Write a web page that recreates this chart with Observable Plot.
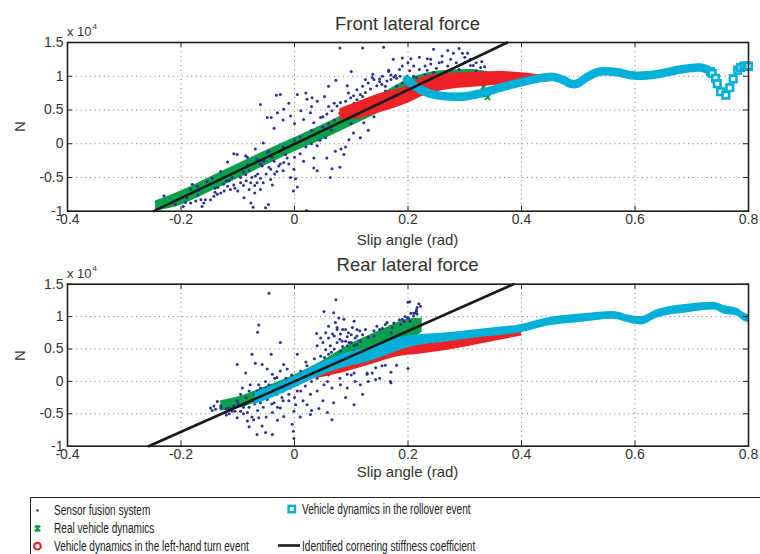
<!DOCTYPE html>
<html><head><meta charset="utf-8">
<script src="https://cdn.jsdelivr.net/npm/d3@7"></script>
<script src="https://cdn.jsdelivr.net/npm/@observablehq/plot@0.6"></script>
<style>
html,body{margin:0;padding:0;background:#fff;width:760px;height:554px;overflow:hidden;font-family:Arial,"Liberation Sans",sans-serif;color:#333}
#wrap{position:relative;width:760px;height:554px;overflow:hidden}
.abs{position:absolute;white-space:nowrap}
#wrap svg.plt{position:absolute;left:0}
.leg{position:absolute;white-space:nowrap;font-size:15.5px;line-height:15.5px;color:#222;transform-origin:0 0;transform:scaleX(0.65)}
</style></head>
<body><div id="wrap"></div>
<script>
// ---------- data (force values in units of 10^4 N) ----------
const xTicks = [-0.4, -0.2, 0, 0.2, 0.4, 0.6, 0.8];
const yTicks = [-1, -0.5, 0, 0.5, 1, 1.5];
const seriesNames = ["Sensor fusion system", "Real vehicle dynamics", "Vehicle dynamics in the left-hand turn event", "Vehicle dynamics in the rollover event", "Identified cornering stiffness coefficient"];

// FRONT: sensor fusion scatter
const frontSensorX = [0.08,0.12,0.157,0.174,0.19,0.205,0.22,0.10,0.073,0.138,0.137,0.15,0.166,0.175,0.186,0.198,0.203,0.21,
 -0.025,-0.032,-0.06,0.005,0.031,0.04,0.053,0.022,-0.048,-0.041,-0.03,-0.019,-0.036,-0.007,0.011,0.016,0.028,0.034,0.046,0.057,0.066,0.075,0.081,0.09,0.099,0.104,0.093,0.116,0.125,0.134,0.145,0.154,0.163,
 0.055,0.04,0.072,0.082,0.057,0.087,0.096,0.116,0.122,0.104,0.034,0.016,0.066,0.063,0.034,-0.001,-0.007,0.002,0.005,-0.002,0.021,
 -0.013,-0.019,-0.028,-0.031,-0.042,-0.036,-0.025,-0.016,-0.048,-0.054,-0.057,-0.042,-0.039,-0.06,-0.069,-0.066,-0.06,-0.07,-0.08,-0.077,-0.086,-0.095,-0.1,-0.089,-0.077,-0.073,-0.046,-0.051,-0.107,-0.113,-0.118,-0.124,-0.13,-0.136,-0.142,-0.148,-0.157,-0.16,-0.165,-0.174,-0.183,-0.192,-0.196,-0.163,
 -0.118,-0.101,-0.086,-0.069,-0.055,-0.045,-0.066,-0.083,-0.13,-0.145,-0.154,-0.171,-0.183,0.21,0.222,
 0.245,0.27,0.29,0.28,0.296,0.305,0.234,0.26,0.166,0.178,0.31,0.315,0.328,0.335,0.234,0.245,-0.23,-0.18,0.08,
 -0.21,-0.19,-0.17,-0.14,-0.12,-0.11,-0.09,-0.08,-0.06,-0.04,-0.02,0.0,0.01,0.03,0.05,0.06,0.07,0.085,0.11,0.13,0.14,0.16,0.18,0.19,0.2,0.215,0.23,
 0.11,0.12,0.13,0.15,0.17,0.18,0.25,0.27,0.29,0.3,0.32,0.24,-0.107,-0.083,
 -0.14,-0.135,-0.125,-0.115,-0.105,-0.095,-0.09,-0.085,-0.075,-0.07,-0.065,-0.055,-0.05,-0.045,-0.035,-0.025,-0.02,-0.01,0.0,0.01,0.02,0.025,0.03,0.045,0.05,0.06,0.065,0.07,0.08,0.09,0.095,0.105,0.11,0.12,0.125,0.13,0.14,0.155,0.16,0.17,0.185,0.19,0.2,0.21,0.22,0.23,0.24,0.255,0.26,0.275,0.285,0.3,0.31,0.32,0.33,0.06,0.03,0.02,-0.01,-0.02,0.0,0.04,0.09,0.1,0.13,0.14];
const frontSensorY = [1.42,1.42,1.43,1.25,1.27,1.26,1.28,1.07,0.94,1.03,0.98,0.96,1.07,0.99,1.0,1.0,1.08,1.0,
 0.73,0.72,0.58,0.73,0.68,0.63,0.70,0.66,0.39,0.39,0.46,0.51,0.23,0.41,0.49,0.36,0.46,0.31,0.39,0.44,0.49,0.56,0.61,0.63,0.68,0.71,0.86,0.73,0.76,0.81,0.86,0.88,0.93,
 0.09,-0.03,-0.11,-0.08,-0.21,-0.16,0.06,0.09,0.31,0.16,-0.21,-0.26,-0.37,-0.50,-0.36,-0.38,-0.50,-0.52,-0.64,-0.70,-0.99,
 -0.21,-0.28,-0.33,-0.41,-0.38,-0.26,-0.11,-0.16,-0.13,-0.26,-0.33,-0.53,-0.61,-0.51,-0.48,-0.58,-0.68,-0.73,-0.68,-0.58,-0.46,-0.58,-0.70,-0.80,-0.88,-0.94,-0.90,-0.95,-0.61,-0.68,-0.63,-0.70,-0.73,-0.75,-0.78,-0.83,-0.83,-0.88,-0.83,-0.85,-0.88,-0.87,-0.93,-0.93,
 -0.27,-0.16,-0.18,-0.08,0.01,-0.11,-0.23,-0.31,-0.41,-0.51,-0.56,-0.63,-0.68,0.81,0.86,
 1.40,1.38,1.41,1.34,1.34,1.34,1.26,1.21,1.09,1.01,1.16,1.16,1.13,1.14,1.09,1.06,-0.77,-0.6,-0.35,
 -0.9,-0.8,-0.76,-0.66,-0.55,-0.5,-0.42,-0.40,-0.30,-0.2,-0.05,0.05,0.1,0.2,0.25,0.3,0.35,0.45,0.55,0.62,0.7,0.78,0.85,0.9,0.95,0.98,1.02,
 0.8,0.85,0.9,0.92,0.95,0.97,1.12,1.15,1.1,1.2,1.08,1.18,-0.15,-0.2,
 -0.72,-0.65,-0.6,-0.55,-0.66,-0.5,-0.62,-0.55,-0.5,-0.62,-0.45,-0.58,-0.45,-0.35,-0.45,-0.3,-0.4,-0.3,-0.2,-0.15,-0.05,0.1,0.0,0.05,0.4,0.55,0.2,0.6,0.45,0.5,0.75,0.6,0.65,0.7,0.95,0.5,0.95,1.0,0.85,1.02,1.1,1.15,1.2,1.15,1.1,1.15,1.25,1.2,1.3,1.25,1.2,1.28,1.25,1.2,1.22,0.85,0.55,0.75,0.6,0.35,0.3,-0.4,-0.05,0.3,0.2,0.4];

// FRONT: real vehicle dynamics band
const frontRealX  = [-0.245,-0.2,-0.15,-0.1,-0.05,0,0.05,0.1,0.15,0.2,0.23,0.27,0.31,0.34];
const frontRealLo = [-1.0,-0.91,-0.72,-0.52,-0.32,-0.12,0.06,0.26,0.46,0.65,0.76,0.86,0.88,0.88];
const frontRealHi = [-0.85,-0.70,-0.50,-0.30,-0.10,0.09,0.28,0.49,0.72,0.95,1.04,1.09,1.1,1.07];
const frontRealPtsX = [0.34,0.333,0.338,0.336,0.328];
const frontRealPtsY = [0.69,0.84,0.78,0.73,0.9];

// FRONT: left-hand turn band
const frontTurnX  = [0.08,0.1,0.15,0.2,0.23,0.27,0.32,0.36,0.40,0.44,0.465];
const frontTurnLo = [0.36,0.36,0.46,0.60,0.72,0.80,0.84,0.87,0.89,0.91,0.93];
const frontTurnHi = [0.52,0.58,0.74,0.86,1.0,1.04,1.06,1.07,1.05,1.01,0.98];

// FRONT: rollover event
const frontRollX = [0.198,0.205,0.215,0.23,0.25,0.27,0.30,0.33,0.363,0.39,0.42,0.456,0.475,0.486,0.498,0.516,0.539,0.569,0.598,0.639,0.68,0.715,0.73];
const frontRollY = [0.95,0.90,0.84,0.77,0.72,0.70,0.70,0.75,0.83,0.89,0.95,0.99,0.94,0.89,0.89,0.99,1.07,1.06,1.01,1.03,1.10,1.13,1.09];
const frontRollSqX = [0.733,0.736,0.742,0.745,0.751,0.76,0.767,0.773,0.781,0.786,0.792,0.797,0.8];
const frontRollSqY = [1.07,1.04,0.97,0.89,0.77,0.72,0.83,0.96,1.09,1.13,1.15,1.15,1.15];

// FRONT: identified cornering stiffness line
const frontStiffX = [-0.248, 0.375];
const frontStiffY = [-1, 1.5];

// REAR: sensor fusion scatter
const rearSensorX = [-0.045,0.073,-0.063,-0.065,0.052,0.069,0.078,0.072,0.075,0.087,0.102,0.105,0.039,0.046,0.06,0.067,0.081,0.093,0.084,0.096,0.107,0.116,0.11,0.075,0.063,0.055,0.046,0.053,0.066,0.075,0.163,0.172,0.19,0.199,0.204,0.203,0.219,0.216,0.21,
 -0.025,-0.041,-0.075,-0.069,-0.101,-0.086,-0.057,-0.048,-0.039,-0.019,0.005,-0.031,-0.051,-0.063,-0.078,-0.092,-0.095,-0.08,-0.066,-0.054,-0.042,-0.031,-0.019,-0.007,0.005,0.011,0.019,0.028,0.04,0.052,0.058,0.066,0.081,0.093,0.107,0.116,0.128,0.137,0.154,0.143,0.169,0.105,0.069,0.066,0.058,0.043,0.022,0.002,-0.001,-0.004,-0.002,-0.001,-0.025,-0.039,-0.051,-0.039,-0.066,-0.057,-0.072,-0.083,-0.095,-0.101,-0.11,-0.116,-0.122,-0.107,-0.089,-0.083,-0.063,-0.019,0.028,-0.01,-0.022,-0.036,-0.048,-0.06,-0.072,-0.101,-0.13,-0.142,-0.148,-0.145,-0.139,-0.136,
 0.105,0.116,0.128,0.143,0.093,0.04,0.049,0.022,0.011,0.022,-0.013,-0.025,0.093,0.105,0.081,0.187,0.193,0.201,0.213,0.216,0.222,0.2,0.21,0.215,0.16,0.17,0.18,0.2,0.17,
 -0.12,-0.11,-0.09,-0.07,-0.05,-0.03,0.0,0.02,0.04,0.06,0.08,0.12,0.14,0.15,0.17,0.18,0.06,0.07,0.085,0.09,0.1,0.11,
 -0.13,-0.12,-0.115,-0.105,-0.1,-0.09,-0.085,-0.08,-0.075,-0.07,-0.065,-0.06,-0.055,-0.05,-0.045,-0.04,-0.035,-0.03,-0.025,-0.02,-0.015,-0.01,-0.005,0.0,0.005,0.01,0.015,0.02,0.03,0.035,0.04,0.045,0.05,0.055,0.06,0.065,0.07,0.075,0.08,0.085,0.09,0.095,0.1,0.105,0.11,0.115,0.12,0.125,0.13,0.14,0.145,0.155,0.16,0.175,0.185,0.195,0.205,0.215,0.13,0.15,0.12,0.09,0.05,0.03,0.01,-0.03,-0.08,0.1,0.08];
const rearSensorY = [1.36,1.26,0.87,0.76,1.08,1.06,0.98,0.91,0.83,0.96,0.83,0.93,0.74,0.67,0.67,0.73,0.73,0.69,0.62,0.60,0.67,0.62,0.57,0.60,0.55,0.49,0.39,0.37,0.26,0.39,0.91,0.83,0.96,0.98,0.93,1.23,1.2,1.04,1.01,
 0.60,0.42,0.42,0.28,0.26,0.13,0.26,0.19,0.11,0.26,0.42,0.06,0.0,-0.05,-0.05,-0.1,-0.2,-0.15,-0.15,-0.2,-0.15,-0.2,-0.15,-0.1,-0.05,-0.15,-0.07,-0.2,-0.15,-0.05,0.0,-0.1,-0.05,-0.1,0.0,-0.05,0.13,0.13,0.24,0.21,0.0,-0.36,-0.33,-0.59,-0.48,-0.42,-0.36,-0.36,-0.46,-0.66,-0.77,-0.88,-0.41,-0.48,-0.79,-0.82,-0.82,-0.69,-0.59,-0.48,-0.46,-0.56,-0.46,-0.41,-0.48,-0.38,-0.36,-0.61,-0.56,-0.54,-0.51,-0.30,-0.25,-0.33,-0.28,-0.33,-0.30,-0.30,-0.41,-0.38,-0.41,-0.45,-0.43,-0.31,
 0.13,0.26,0.11,0.03,0.11,0.16,0.24,0.24,0.16,0.08,0.19,0.16,0.55,0.47,0.47,0.88,0.93,0.98,1.06,1.14,1.16,1.22,1.05,1.08,0.25,0.14,0.25,0.2,-0.02,
 -0.52,-0.42,-0.4,-0.35,-0.1,-0.05,0.02,0.12,0.05,0.1,0.2,0.35,0.7,0.8,0.75,0.7,0.42,0.5,0.54,0.8,0.72,0.8,
 -0.38,-0.42,-0.5,-0.46,-0.35,-0.5,-0.25,-0.4,-0.55,-0.2,-0.45,-0.1,-0.4,-0.55,-0.05,-0.35,0.05,-0.4,-0.05,-0.3,0.05,-0.2,0.1,-0.25,-0.15,0.05,-0.3,0.3,0.0,0.35,0.55,0.1,0.6,0.75,0.85,0.45,0.7,0.8,0.65,0.8,0.62,0.75,0.6,0.55,0.7,0.78,0.72,0.8,0.68,0.78,0.85,0.82,0.88,0.9,0.95,1.0,1.05,1.1,0.0,0.05,-0.2,-0.25,-0.3,-0.45,-0.55,-0.6,-0.7,0.1,0.05];

// REAR: real vehicle dynamics band
const rearRealX  = [-0.13,-0.1,-0.05,0,0.05,0.1,0.15,0.2,0.225];
const rearRealLo = [-0.46,-0.42,-0.26,-0.08,0.12,0.30,0.46,0.62,0.76];
const rearRealHi = [-0.30,-0.24,-0.08,0.10,0.32,0.58,0.78,0.96,0.98];

// REAR: left-hand turn band
const rearTurnX  = [0.03,0.06,0.08,0.128,0.187,0.22,0.27,0.33,0.40];
const rearTurnLo = [0.04,0.08,0.12,0.24,0.39,0.42,0.48,0.58,0.70];
const rearTurnHi = [0.12,0.18,0.24,0.40,0.60,0.60,0.63,0.72,0.83];

// REAR: rollover event band
const rearRollX  = [-0.07,-0.04,0,0.05,0.1,0.13,0.15,0.2,0.27,0.33,0.4,0.445,0.504,0.562,0.59,0.61,0.64,0.693,0.74,0.756,0.78,0.792,0.8];
const rearRollLo = [-0.36,-0.26,-0.10,0.10,0.24,0.30,0.36,0.52,0.61,0.68,0.75,0.85,0.91,0.96,0.90,0.87,0.98,1.06,1.10,1.04,1.01,0.93,0.91];
const rearRollHi = [-0.18,-0.08,0.08,0.30,0.46,0.52,0.60,0.70,0.75,0.81,0.88,0.98,1.04,1.08,1.02,1.0,1.11,1.19,1.22,1.17,1.13,1.06,1.03];

// REAR: identified cornering stiffness line
const rearStiffX = [-0.257, 0.386];
const rearStiffY = [-1, 1.5];

// ---------- styles ----------
const C_BLUE = "#2a3190", C_GREEN = "#0c9f4c", C_RED = "#ec2227", C_CYAN = "#00b0d8", C_BLACK = "#1a1a1a";
const FONT = "Arial, 'Liberation Sans', Helvetica, sans-serif";

function panel({height, mt, mb, sensorX, sensorY, realX, realLo, realHi, realPtsX, realPtsY, turnX, turnLo, turnHi, rollMarks, stiffX, stiffY}) {
  const innerH = height - mt - mb, innerW = 760 - 67 - 12;
  return Plot.plot({
    width: 760, height, marginTop: mt, marginBottom: mb, marginLeft: 67, marginRight: 12,
    x: {domain: [-0.4, 0.8]}, y: {domain: [-1, 1.5]},
    style: {fontFamily: FONT, fontSize: "14px", color: "#333", background: "transparent", overflow: "visible"},
    marks: [
      Plot.ruleX(xTicks, {x: d => d, stroke: "#777", strokeDasharray: "1,3.6", strokeWidth: 1}),
      Plot.ruleY(yTicks, {y: d => d, stroke: "#777", strokeDasharray: "1,3.6", strokeWidth: 1}),
      Plot.areaY(realX, {x: realX, y1: realLo, y2: realHi, fill: C_GREEN, curve: "monotone-x"}),
      realPtsX ? Plot.dot(realPtsX, {x: realPtsX, y: realPtsY, symbol: "times", r: 2.6, stroke: C_GREEN, strokeWidth: 2}) : null,
      Plot.dot(sensorX, {x: sensorX, y: sensorY, r: 1.5, fill: C_BLUE, stroke: null}),
      Plot.areaY(turnX, {x: turnX, y1: turnLo, y2: turnHi, fill: C_RED, curve: "monotone-x"}),
      ...rollMarks,
      Plot.line(stiffX, {x: stiffX, y: stiffY, stroke: C_BLACK, strokeWidth: 2.6}),
      Plot.tickX(xTicks, {x: d => d, insetTop: innerH - 5, stroke: "#222"}),
      Plot.tickX(xTicks, {x: d => d, insetBottom: innerH - 5, stroke: "#222"}),
      Plot.tickY(yTicks, {y: d => d, insetRight: innerW - 5, stroke: "#222"}),
      Plot.tickY(yTicks, {y: d => d, insetLeft: innerW - 5, stroke: "#222"}),
      Plot.frame({stroke: "#1e1e1e", strokeWidth: 1.6}),
      Plot.axisX({ticks: xTicks, tickSize: 0, tickPadding: 3, tickFormat: d => String(d), label: null}),
      Plot.axisY({ticks: yTicks, tickSize: 0, tickPadding: 4, tickFormat: d => String(d), label: null})
    ]
  });
}

const wrapEl = document.getElementById("wrap");

const frontPlot = panel({
  height: 250, mt: 42, mb: 39.3,
  sensorX: frontSensorX, sensorY: frontSensorY,
  realX: frontRealX, realLo: frontRealLo, realHi: frontRealHi, realPtsX: frontRealPtsX, realPtsY: frontRealPtsY,
  turnX: frontTurnX, turnLo: frontTurnLo, turnHi: frontTurnHi,
  rollMarks: [
    Plot.line(frontRollX, {x: frontRollX, y: frontRollY, stroke: C_CYAN, strokeWidth: 8.5, strokeLinecap: "round", strokeLinejoin: "round", curve: "catmull-rom"}),
    Plot.dot(frontRollSqX, {x: frontRollSqX, y: frontRollSqY, symbol: "square", r: 3.7, stroke: C_CYAN, strokeWidth: 2.6, fill: "white"})
  ],
  stiffX: frontStiffX, stiffY: frontStiffY
});
frontPlot.classList.add("plt"); frontPlot.style.top = "0px";
wrapEl.appendChild(frontPlot);

const rearPlot = panel({
  height: 240, mt: 33.7, mb: 44.3,
  sensorX: rearSensorX, sensorY: rearSensorY,
  realX: rearRealX, realLo: rearRealLo, realHi: rearRealHi,
  turnX: rearTurnX, turnLo: rearTurnLo, turnHi: rearTurnHi,
  rollMarks: [
    Plot.areaY(rearRollX, {x: rearRollX, y1: rearRollLo, y2: rearRollHi, fill: C_CYAN, curve: "monotone-x"})
  ],
  stiffX: rearStiffX, stiffY: rearStiffY
});
rearPlot.classList.add("plt"); rearPlot.style.top = "250px";
wrapEl.appendChild(rearPlot);

// ---------- text overlays ----------
function txt(s, x, baseline, size, anchor, extra) {
  const d = document.createElement("div");
  d.className = "abs";
  d.innerHTML = s;
  d.style.fontSize = size + "px";
  d.style.lineHeight = size + "px";
  d.style.top = (baseline - 0.8465 * size) + "px";
  d.style.left = x + "px";
  if (anchor === "middle") d.style.transform = "translateX(-50%)";
  if (extra) Object.assign(d.style, extra);
  wrapEl.appendChild(d);
  return d;
}
txt("Front lateral force", 407.5, 30.5, 18.5, "middle");
txt("Rear lateral force", 407.5, 271.5, 18.5, "middle");
txt("Slip angle (rad)", 407.5, 245, 15, "middle");
txt("Slip angle (rad)", 407.5, 477, 15, "middle");
txt('x 10<span style="font-size:8px;position:relative;top:-7px;margin-left:1px">4</span>', 67, 36, 13);
txt('x 10<span style="font-size:8px;position:relative;top:-7px;margin-left:1px">4</span>', 67, 278, 13);
const n1 = txt("N", 19, 126 + 5.4, 15, "middle"); n1.style.transform = "translateX(-50%) rotate(-90deg)";
const n2 = txt("N", 19, 355 + 5.4, 15, "middle"); n2.style.transform = "translateX(-50%) rotate(-90deg)";

// ---------- legend ----------
const box = document.createElement("div");
box.className = "abs";
Object.assign(box.style, {left: "30px", top: "497px", width: "760px", height: "80px", border: "1px solid #222", boxSizing: "border-box"});
wrapEl.appendChild(box);

function legText(s, x, baseline) {
  const d = document.createElement("div");
  d.className = "leg";
  d.textContent = s;
  d.style.left = x + "px";
  d.style.top = (baseline - 0.8465 * 15.5) + "px";
  wrapEl.appendChild(d);
}
legText(seriesNames[0], 54, 515);
legText(seriesNames[1], 54, 533.3);
legText(seriesNames[2], 54, 550.8);
legText(seriesNames[3], 302, 514.5);
legText(seriesNames[4], 302, 550.8);

const ns = "http://www.w3.org/2000/svg";
const lsvg = document.createElementNS(ns, "svg");
lsvg.setAttribute("width", 760); lsvg.setAttribute("height", 554);
Object.assign(lsvg.style, {position: "absolute", left: "0px", top: "0px", pointerEvents: "none"});
lsvg.innerHTML = `
  <circle cx="37.5" cy="510.5" r="1.3" fill="${C_BLUE}"/>
  <path d="M34.8,525.8 L40.2,531.2 M40.2,525.8 L34.8,531.2 M37.5,525 L37.5,532" stroke="${C_GREEN}" stroke-width="2"/>
  <circle cx="37.5" cy="546.2" r="3.3" fill="none" stroke="${C_RED}" stroke-width="2.2"/>
  <rect x="288.6" y="505.8" width="6.4" height="6.4" fill="white" stroke="${C_CYAN}" stroke-width="2.4"/>
  <line x1="278" y1="545.5" x2="300" y2="545.5" stroke="${C_BLACK}" stroke-width="2.6"/>`;
wrapEl.appendChild(lsvg);
</script>
</body></html>
